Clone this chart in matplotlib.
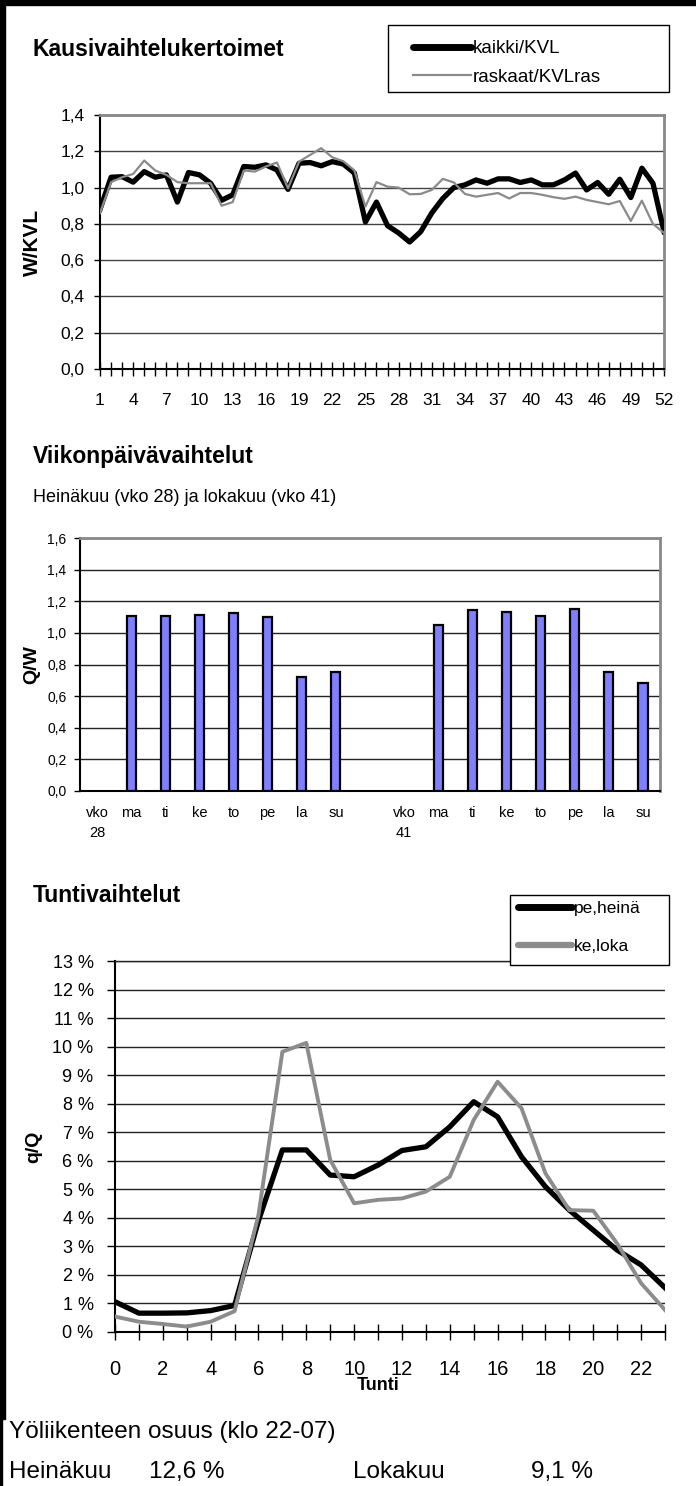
import numpy as np
import matplotlib
matplotlib.use('Agg')
import matplotlib.pyplot as plt
from matplotlib.lines import Line2D
from matplotlib.patches import Rectangle
from matplotlib.ticker import FuncFormatter

plt.rcParams['font.family'] = ['Liberation Sans', 'DejaVu Sans']

# ---------------- data ----------------
weeks = list(range(1, 53))
kaikki = [0.88, 1.057, 1.06, 1.03, 1.088, 1.057, 1.07, 0.92, 1.083, 1.07,
          1.024, 0.93, 0.96, 1.116, 1.112, 1.125, 1.097, 0.99, 1.134, 1.138,
          1.12, 1.143, 1.13, 1.08, 0.81, 0.92, 0.79, 0.75, 0.70, 0.757,
          0.86, 0.94, 1.0, 1.015, 1.042, 1.024, 1.048, 1.048, 1.028, 1.042,
          1.015, 1.015, 1.042, 1.08, 0.987, 1.028, 0.963, 1.046, 0.945, 1.107,
          1.024, 0.757]
raskaat = [0.86, 1.03, 1.057, 1.075, 1.149, 1.094, 1.07, 1.03, 1.024, 1.024,
           1.024, 0.90, 0.92, 1.094, 1.088, 1.116, 1.138, 0.996, 1.143, 1.18,
           1.217, 1.167, 1.145, 1.095, 0.895, 1.03, 1.005, 1.0, 0.963, 0.965,
           0.987, 1.048, 1.028, 0.965, 0.95, 0.96, 0.97, 0.94, 0.97, 0.97,
           0.96, 0.947, 0.938, 0.95, 0.932, 0.92, 0.908, 0.926, 0.816, 0.928,
           0.80, 0.75]
series_top = ['kaikki/KVL', 'raskaat/KVLras']

days = ['ma', 'ti', 'ke', 'to', 'pe', 'la', 'su']
week_labels = ['vko\n28', 'vko\n41']
heina_vko28 = [1.107, 1.105, 1.111, 1.126, 1.10, 0.721, 0.753]
loka_vko41 = [1.052, 1.143, 1.132, 1.109, 1.151, 0.751, 0.683]

hours = list(range(24))
pe_heina = [1.06, 0.66, 0.66, 0.67, 0.75, 0.93, 3.9, 6.38, 6.38, 5.50,
            5.44, 5.85, 6.36, 6.49, 7.19, 8.07, 7.54, 6.14, 5.09, 4.27,
            3.57, 2.87, 2.35, 1.55]
ke_loka = [0.54, 0.36, 0.28, 0.19, 0.36, 0.73, 4.1, 9.82, 10.13, 6.03,
           4.51, 4.63, 4.68, 4.92, 5.44, 7.43, 8.77, 7.84, 5.56, 4.27,
           4.25, 3.10, 1.71, 0.77]
series_bottom = ['pe,heinä', 'ke,loka']

night_months = ['Heinäkuu', 'Lokakuu']
night_share = [12.6, 9.1]

# ---------------- layout helpers ----------------
W, H = 696, 1486
fig = plt.figure(figsize=(W / 100, H / 100), dpi=100)


def box(x0, y0, x1, y1):
    return [x0 / W, 1 - y1 / H, (x1 - x0) / W, (y1 - y0) / H]


def fx(x):
    return x / W


def fy(y):
    return 1 - y / H


comma = FuncFormatter(lambda v, p: f"{v:.1f}".replace('.', ','))

# page frame
fig.patches.append(Rectangle((0, fy(5)), 1, 5 / H, transform=fig.transFigure,
                             color='black', zorder=10))
fig.patches.append(Rectangle((0, fy(1419)), 4.5 / W, 1419 / H,
                             transform=fig.transFigure, color='black', zorder=10))
fig.patches.append(Rectangle((0, 0), 2 / W, (H - 1419) / H,
                             transform=fig.transFigure, color='black', zorder=10))

# ---------------- top chart ----------------
fig.text(fx(33), fy(49), 'Kausivaihtelukertoimet', fontsize=16.5,
         fontweight='bold', va='center', ha='left')

ax1 = fig.add_axes(box(100, 115, 664, 369))
ax1.plot(weeks, kaikki, color='black', lw=3.8, solid_joinstyle='round', zorder=3)
ax1.plot(weeks, raskaat, color='#8a8a8a', lw=1.6, zorder=4)
ax1.set_xlim(1, 52)
ax1.set_ylim(0, 1.4)
ax1.set_yticks(np.arange(0, 1.41, 0.2))
ax1.yaxis.set_major_formatter(comma)
ax1.set_xticks(weeks)
ax1.set_xticklabels([str(w) if (w - 1) % 3 == 0 else '' for w in weeks])
ax1.grid(axis='y', color='#444444', lw=1)
ax1.set_axisbelow(True)
ax1.tick_params(axis='x', direction='inout', length=10, width=1, pad=12,
                labelsize=12.5)
ax1.tick_params(axis='y', direction='out', length=4, width=1, pad=7,
                labelsize=12.5)
for s in ['left', 'bottom']:
    ax1.spines[s].set_color('black')
    ax1.spines[s].set_linewidth(1.5)
for s in ['top', 'right']:
    ax1.spines[s].set_color('#888888')
    ax1.spines[s].set_linewidth(2)
ax1.set_ylabel('W/KVL', fontsize=15, fontweight='bold')
ax1.yaxis.set_label_coords((42 - 100) / 564, 0.5)

h_top = [Line2D([], [], color='black', lw=5, solid_capstyle='round'),
         Line2D([], [], color='#8a8a8a', lw=1.6)]
fig.legend(h_top, series_top, loc='upper left',
           bbox_to_anchor=(fx(413), fy(40)), frameon=False, fontsize=13.5,
           handlelength=3.1, handletextpad=0.1, labelspacing=0.6,
           borderpad=0, borderaxespad=0)
fig.patches.append(Rectangle((fx(388), fy(92)), (669 - 388) / W, 67 / H,
                             transform=fig.transFigure, fill=False,
                             ec='black', lw=1))

# ---------------- middle chart ----------------
fig.text(fx(33), fy(457), 'Viikonpäivävaihtelut', fontsize=16.5,
         fontweight='bold', va='center', ha='left')
fig.text(fx(33), fy(498), 'Heinäkuu (vko 28) ja lokakuu (vko 41)',
         fontsize=13, va='center', ha='left')

cats = [week_labels[0]] + days + [''] + [week_labels[1]] + days
vals = [np.nan] + heina_vko28 + [np.nan, np.nan] + loka_vko41
xpos = np.arange(len(cats))

ax2 = fig.add_axes(box(80, 538, 660, 791))
ax2.bar(xpos, vals, width=0.27, color='#8080ff', edgecolor='black',
        linewidth=1.6, zorder=3)
ax2.set_xlim(-0.5, len(cats) - 0.5)
ax2.set_ylim(0, 1.6)
ax2.set_yticks(np.arange(0, 1.61, 0.2))
ax2.yaxis.set_major_formatter(comma)
ax2.set_xticks(xpos)
ax2.set_xticklabels(cats)
for t in ax2.get_xticklabels():
    t.set_linespacing(1.5)
ax2.grid(axis='y', color='#222222', lw=1)
ax2.set_axisbelow(True)
ax2.tick_params(axis='x', length=0, pad=11, labelsize=10.5)
ax2.tick_params(axis='y', direction='out', length=4, width=1, pad=5.7,
                labelsize=10)
for s in ['left', 'bottom']:
    ax2.spines[s].set_color('black')
    ax2.spines[s].set_linewidth(1.5)
for s in ['top', 'right']:
    ax2.spines[s].set_color('#888888')
    ax2.spines[s].set_linewidth(2)
ax2.set_ylabel('Q/W', fontsize=14, fontweight='bold')
ax2.yaxis.set_label_coords((40 - 80) / 580, 0.5)

# ---------------- bottom chart ----------------
fig.text(fx(33), fy(895), 'Tuntivaihtelut', fontsize=16.5,
         fontweight='bold', va='center', ha='left')

ax3 = fig.add_axes(box(115, 961, 665, 1332))
ax3.plot(hours, pe_heina, color='black', lw=3.8, solid_joinstyle='round', zorder=3)
ax3.plot(hours, ke_loka, color='#8c8c8c', lw=2.8, solid_joinstyle='round', zorder=4)
ax3.set_xlim(0, 23)
ax3.set_ylim(0, 13)
ax3.set_yticks(range(0, 14))
ax3.yaxis.set_major_formatter(FuncFormatter(lambda v, p: f"{int(round(v))} %"))
ax3.set_xticks(hours)
ax3.set_xticklabels([str(h) if h % 2 == 0 else '' for h in hours])
ax3.grid(axis='y', color='#222222', lw=1)
ax3.set_axisbelow(True)
ax3.tick_params(axis='x', direction='inout', length=12, width=1, pad=14,
                labelsize=14.5)
ax3.tick_params(axis='y', direction='out', length=6, width=1, pad=9.4,
                labelsize=13)
for s in ['left', 'bottom']:
    ax3.spines[s].set_color('black')
    ax3.spines[s].set_linewidth(1.5)
ax3.spines['top'].set_color('#222222')
ax3.spines['top'].set_linewidth(1)
ax3.spines['right'].set_visible(False)
ax3.set_ylabel('q/Q', fontsize=14, fontweight='bold')
ax3.yaxis.set_label_coords((42 - 115) / 550, 0.5)
ax3.set_xlabel('Tunti', fontsize=13, fontweight='bold')
ax3.xaxis.set_label_coords((378 - 115) / 550, (1332 - 1377) / 371)

h_bot = [Line2D([], [], color='black', lw=5, solid_capstyle='round'),
         Line2D([], [], color='#8c8c8c', lw=4.5, solid_capstyle='round')]
leg3 = fig.legend(h_bot, series_bottom, loc='upper left',
                  bbox_to_anchor=(fx(518), fy(901)), frameon=False,
                  fontsize=12.5, handlelength=3.1, handletextpad=0.1,
                  labelspacing=1.3, borderpad=0, borderaxespad=0)
leg3.set_zorder(20)
fig.patches.append(Rectangle((fx(510), fy(965)), (669 - 510) / W, 70 / H,
                             transform=fig.transFigure, facecolor='white',
                             ec='black', lw=1, zorder=15))

# ---------------- bottom text ----------------
fig.text(fx(9), fy(1432), 'Yöliikenteen osuus (klo 22-07)', fontsize=17.5,
         va='center', ha='left')
fig.text(fx(9), fy(1472), night_months[0], fontsize=17.5, va='center', ha='left')
fig.text(fx(149), fy(1472), f"{night_share[0]:.1f} %".replace('.', ','),
         fontsize=17.5, va='center', ha='left')
fig.text(fx(353), fy(1472), night_months[1], fontsize=17.5, va='center', ha='left')
fig.text(fx(531), fy(1472), f"{night_share[1]:.1f} %".replace('.', ','),
         fontsize=17.5, va='center', ha='left')

fig.savefig('out.png', dpi=100)
